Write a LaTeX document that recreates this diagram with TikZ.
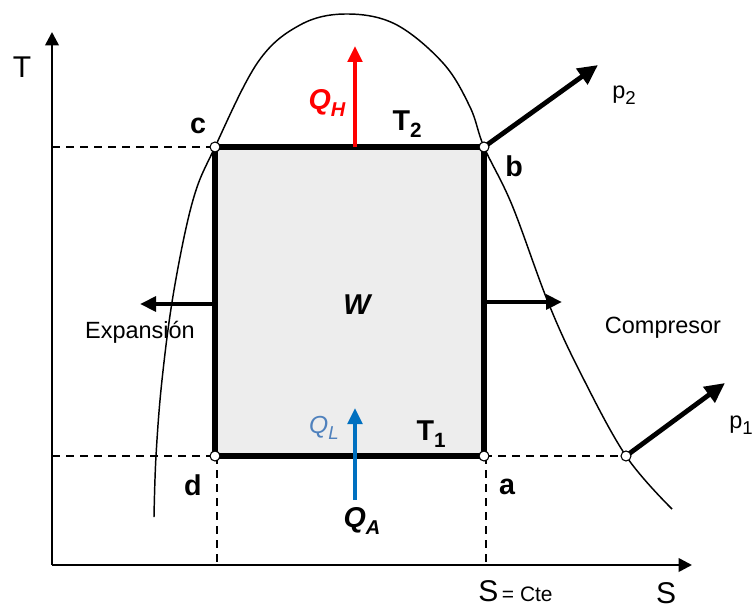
\documentclass[tikz,border=0pt]{standalone}
\usepackage{fontspec}
\setmainfont{Liberation Sans}
\usetikzlibrary{arrows.meta}
\newcommand\fsz[1]{\fontsize{#1}{#1}\selectfont}
\newcommand\lowsub[2]{\raisebox{-0.25em}{\fsz{#1}#2}}
\definecolor{qblue}{RGB}{0,112,192}
\definecolor{qlblue}{RGB}{79,129,189}
\begin{document}
\begin{tikzpicture}[x=0.75pt,y=-0.75pt,
  axis/.style={line width=1.9pt,-{Triangle[length=10pt,width=10pt]}},
  cyc/.style={line width=3.8pt,line join=miter},
  guide/.style={line width=1.1pt,dash pattern=on 6pt off 4.5pt},
  dome/.style={line width=1.1pt},
  bigarrow/.style={line width=3.6pt,-{Triangle[length=15pt,width=14pt]}},
  sidearrow/.style={line width=2.8pt,-{Triangle[length=12pt,width=11pt]}},
  qarrow/.style={line width=2.6pt,-{Triangle[length=12pt,width=11pt]}},
  pt/.style={circle,draw=black,fill=white,line width=0.8pt,inner sep=0pt,minimum size=7.5pt},
  lbl/.style={inner sep=0pt,font=\fsz{21.5}\bfseries},
  txt/.style={inner sep=0pt,font=\fsz{17.6}}]
\useasboundingbox (0,0) rectangle (755,610);
% key coordinates
\coordinate (c) at (215,147);
\coordinate (b) at (484,147);
\coordinate (a) at (484,456);
\coordinate (d) at (215,456);
\coordinate (e) at (626,456);
\coordinate (O) at (52,565);
\coordinate (ytop) at (52,32);
\coordinate (xend) at (692,565);
\coordinate (yc) at (52,147);
\coordinate (yd) at (52,456);
\coordinate (xd) at (217,565);
\coordinate (xa) at (486,565);
% fill
\fill[black!7] (c) rectangle (a);
% dashed guides
\draw[guide] (yc) -- (c);
\draw[guide] (yd) -- (d);
\draw[guide] (a) -- (e);
\draw[guide] (d) ++(2,0) -- (xd);
\draw[guide] (a) ++(2,0) -- (xa);
% axes
\draw[axis] (O) -- (ytop);
\draw[axis] (O) -- (xend);
% dome
\draw[dome] plot[smooth,tension=0.6] coordinates {(154,517) (156,456) (162,380) (174,290) (193,200) (215,147) (258,62) (300,25) (345,14) (395,24) (443,63) (470,107) (484,147) (512,205) (548,302) (580,372) (626,456) (672,509)};
% cycle
\draw[cyc] (c) -- (b) -- (a) -- (d) -- cycle;
% arrows
\coordinate (p2t) at (598,65);
\coordinate (p1t) at (725,383);
\draw[bigarrow] (b) -- (p2t);
\draw[bigarrow] (e) -- (p1t);
\coordinate (lt) at (140,304);
\coordinate (ls) at (217,304);
\coordinate (rs) at (484,302);
\coordinate (rt) at (562,302);
\draw[sidearrow] (ls) -- (lt);
\draw[sidearrow] (rs) -- (rt);
\coordinate (qhs) at (355,147);
\coordinate (qht) at (355,46);
\draw[qarrow,red] (qhs) -- (qht);
\coordinate (qls) at (355,500);
\coordinate (qlt) at (355,408);
\draw[qarrow,qblue] (qls) -- (qlt);
% points
\node[pt] (nc) at (c) {};
\node[pt] (nb) at (b) {};
\node[pt] (na) at (a) {};
\node[pt] (nd) at (d) {};
\node[pt] (ne) at (e) {};
% labels
\node[inner sep=0pt,font=\fsz{22.5}] (T) at (22,67) {T};
\node[inner sep=0pt,font=\fsz{22.5}] (S) at (666,593) {S};
\node[inner sep=0pt,anchor=base west] (SC) at (478,601) {{\fsz{22.5}S} {\fsz{15.7}= Cte}};
\node[lbl] (lc) at (198,126) {c};
\node[lbl] (lb) at (514,166) {b};
\node[lbl] (ld) at (193,485) {d};
\node[lbl] (la) at (507,487) {a};
\node[lbl] (lT2) at (407,124) {T\lowsub{15.5}{2}};
\node[lbl] (lT1) at (431,434) {T\lowsub{15.5}{1}};
\node[lbl,font=\fsz{21.5}\bfseries\itshape] (lW) at (357,305) {W};
\node[lbl,font=\fsz{21.5}\bfseries\itshape,text=red] (lQH) at (327,103) {Q\lowsub{15}{H}};
\node[inner sep=0pt,font=\fsz{18.5}\itshape,text=qlblue] (lQL) at (324,428) {Q\lowsub{14}{L}};
\node[lbl,font=\fsz{21.5}\bfseries\itshape] (lQA) at (362,521) {Q\lowsub{15}{A}};
\node[txt] (lexp) at (140,332) {Expansión};
\node[txt] (lcomp) at (663,328) {Compresor};
\node[txt,anchor=west] (lp2) at (612,95) {p\lowsub{14}{2}};
\node[txt,anchor=west] (lp1) at (729,425) {p\lowsub{14}{1}};
\end{tikzpicture}
\end{document}
